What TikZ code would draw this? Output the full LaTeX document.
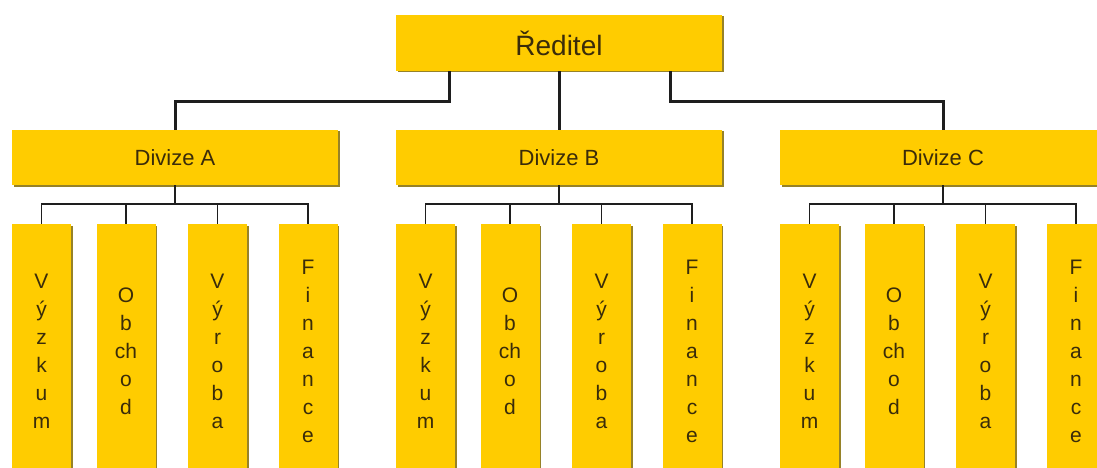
\documentclass[tikz,border=0pt]{standalone}
\usepackage{fontspec}
\setmainfont{Liberation Sans}
\usetikzlibrary{shadows}
\definecolor{gold}{RGB}{255,204,0}
\definecolor{goldedge}{RGB}{150,130,40}
\definecolor{ink}{RGB}{58,44,10}
\definecolor{wire}{RGB}{30,30,30}
\tikzset{
  boxbase/.style={rectangle, fill=gold, inner sep=0pt, text=ink,
    general shadow={shadow xshift=1.5pt, shadow yshift=-1.5pt, fill=goldedge}},
  headbox/.style={boxbase, minimum width=326pt, minimum height=56pt,
    font=\fontsize{28}{32}\selectfont},
  divbox/.style={boxbase, minimum width=326pt, minimum height=55pt,
    font=\fontsize{22}{26}\selectfont},
  deptbox/.style={boxbase, minimum width=59pt, minimum height=254pt,
    align=center, font=\fontsize{21}{28}\selectfont},
  mainwire/.style={draw=wire, line width=3pt},
  subwire/.style={draw=wire, line width=1.5pt},
}
\begin{document}
\begin{tikzpicture}[x=1pt,y=-1pt]
\useasboundingbox (0,0) rectangle (1097,468);
\fill[white] (0,0) rectangle (1097,468);
\clip (0,0) rectangle (1097,468);

% director
\node[headbox] (r) at (559,43) {Ředitel};

% divisions and their departments
\foreach \d/\cx in {A/175,B/559,C/943}{
  \node[divbox] (d\d) at (\cx,157.5) {Divize \d};
  \node[deptbox] (s\d1) at (\cx-133.5,351) {V\\ý\\z\\k\\u\\m};
  \node[deptbox] (s\d2) at (\cx-49,351) {O\\b\\ch\\o\\d};
  \node[deptbox] (s\d3) at (\cx+42.5,351) {V\\ý\\r\\o\\b\\a};
  \node[deptbox] (s\d4) at (\cx+133,351) {F\\i\\n\\a\\n\\c\\e};
  % bracket from the division to its departments
  \draw[subwire] (d\d.south) -- ++(0,19) coordinate (j\d);
  \draw[subwire] (s\d1.north) |- (j\d) -| (s\d4.north);
  \draw[subwire] (s\d2.north) -- (s\d2.north |- j\d);
  \draw[subwire] (s\d3.north) -- (s\d3.north |- j\d);
}

% director to divisions
\draw[mainwire] ([xshift=-110pt]r.south) -- ++(0,30) -| (dA.north);
\draw[mainwire] (r.south) -- (dB.north);
\draw[mainwire] ([xshift=111pt]r.south) -- ++(0,30) -| (dC.north);
\end{tikzpicture}
\end{document}
